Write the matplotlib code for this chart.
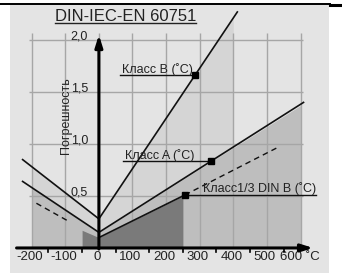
import numpy as np
import matplotlib.pyplot as plt
from matplotlib.patches import Rectangle
from matplotlib.lines import Line2D

plt.rcParams['font.family'] = ['Liberation Sans', 'DejaVu Sans']

# Класс B : линия и закрашенная область
b_t = [-227, 0, 412]
b_err = [0.85, 0.28, 2.27]
b_fill_t = [-200, 0, 400]
b_fill_err = [0.78, 0.28, 2.22]

# Класс A
a_t = [-227, 0, 609]
a_err = [0.64, 0.15, 1.40]
a_fill_t = [-200, 0, 600]
a_fill_err = [0.58, 0.15, 1.37]

# Класс 1/3 DIN B
c_t = [0, 256]
c_err = [0.10, 0.51]
c_dash_t = [256, 528]
c_dash_err = [0.51, 0.96]
c_left_t = [-186, -92]
c_left_err = [0.43, 0.26]
c_fill_t = [-50, 0, 250]
c_fill_err = [0.17, 0.10, 0.50]

# подписи классов и маркеры
class_labels = ['Класс B (˚C)', 'Класс A (˚C)', 'Класс1/3 DIN B (˚C)']
label_t = [68, 77, 310]
label_err = [1.68, 0.86, 0.535]
marker_t = [286, 333, 256]
marker_err = [1.66, 0.84, 0.51]

x_ticks = [-200, -100, 0, 100, 200, 300, 400, 500, 600]
x_labels = ['-200', '-100', '0', '100', '200', '300', '400', '500', '600']
y_ticks = [0.5, 1.0, 1.5, 2.0]
y_labels = ['0,5', '1,0', '1,5', '2,0']

fig = plt.figure(figsize=(3.42, 2.75), dpi=100)
ax = fig.add_axes([0, 0, 1, 1])
ax.set_xlim(-294.3, 723.5)
ax.set_ylim(-0.26, 2.385)
ax.axis('off')

# фон
fig.add_artist(Rectangle((10/342, 1-273/275), 319/342, 268/275, transform=fig.transFigure,
                         facecolor='#e4e4e4', edgecolor='none', zorder=0))
fig.add_artist(Line2D([0, 330/342], [1-4/275]*2, transform=fig.transFigure, color='k', lw=1.4))
fig.add_artist(Line2D([330/342, 1], [1-4.5/275]*2, transform=fig.transFigure, color='k', lw=2.2))

# области
ax.fill_between(b_fill_t, b_fill_err, color='#d5d5d5', zorder=1, lw=0)
ax.fill_between(a_fill_t, a_fill_err, color='#bebebe', zorder=1.5, lw=0)

# сетка
ax.vlines(x_ticks, 0, 2.07, color='#a6a6a6', lw=1, zorder=2)
ax.hlines(y_ticks, -208, 608, color='#a6a6a6', lw=1, zorder=2)

ax.fill_between(c_fill_t, c_fill_err, color='#7a7a7a', zorder=3, lw=0)

# линии допусков
ax.plot(b_t, b_err, color='#111111', lw=1.2, zorder=4)
ax.plot(a_t, a_err, color='#111111', lw=1.2, zorder=4)
ax.plot(c_t, c_err, color='#111111', lw=1.2, zorder=4)
ax.plot(c_dash_t, c_dash_err, color='#111111', lw=1.0, ls=(0, (4, 3)), zorder=4)
ax.plot(c_left_t, c_left_err, color='#111111', lw=1.0, ls=(0, (4, 3)), zorder=4)

# оси
ax.annotate('', xy=(638, 0), xytext=(-245, 0),
            arrowprops=dict(arrowstyle='-|>,head_length=0.7,head_width=0.22', lw=2.2,
                            color='k', shrinkA=0, shrinkB=0), zorder=5)
ax.annotate('', xy=(0, 2.05), xytext=(0, -0.01),
            arrowprops=dict(arrowstyle='-|>,head_length=0.7,head_width=0.22', lw=2.2,
                            color='k', shrinkA=0, shrinkB=0), zorder=5)
for t in np.arange(-150, 600, 100):
    ax.plot([t, t], [0, -0.035], color='k', lw=1.2, zorder=5)

for t, lab in zip(x_ticks[:-1], x_labels[:-1]):
    ax.text(t - 6, -0.09, lab, ha='center', va='center', fontsize=9.5, color='#222222')
ax.text(538, -0.09, x_labels[-1] + ' ˚C', ha='left', va='center', fontsize=9.5, color='#222222')
for v, lab in zip(y_ticks, y_labels):
    ax.text(-32, v + 0.035, lab, ha='right', va='center', fontsize=9, color='#222222')

ax.text(-98, 1.27, 'Погрешность', rotation=90, ha='center', va='center',
        fontsize=9, color='#222222')

title = ax.text(80, 2.225, 'DIN-IEC-EN 60751', ha='center', va='center',
                fontsize=12, color='#222222')

ax.plot(marker_t, marker_err, ls='none', marker='s', ms=4.5, color='k', zorder=6)
texts = []
for lab, t, v in zip(class_labels, label_t, label_err):
    texts.append(ax.text(t, v, lab, ha='left', va='baseline', fontsize=9,
                         color='#222222', zorder=6))

# подчёркивания
fig.canvas.draw()
inv = ax.transData.inverted()
bb = title.get_window_extent()
(x0, y0), (x1, y1) = inv.transform([[bb.x0, bb.y0], [bb.x1, bb.y1]])
ax.plot([x0, x1], [y0 + 0.01, y0 + 0.01], color='#222222', lw=1)
for i, txt in enumerate(texts):
    bb = txt.get_window_extent()
    (x0, y0), (x1, y1) = inv.transform([[bb.x0, bb.y0], [bb.x1, bb.y1]])
    if i < 2:
        ax.plot([x0 - 4, marker_t[i]], [marker_err[i]] * 2, color='#111111', lw=1, zorder=5)
    else:
        ax.plot([marker_t[i], x1], [marker_err[i]] * 2, color='#111111', lw=1, zorder=5)

fig.savefig('out.png', dpi=100)
